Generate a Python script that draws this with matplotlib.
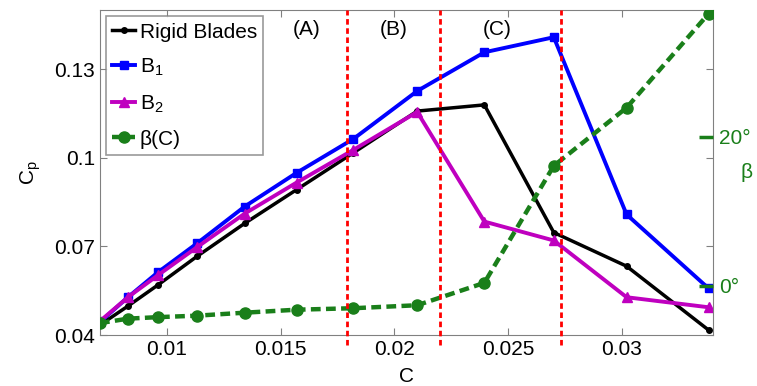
import numpy as np
import matplotlib.pyplot as plt

plt.rcParams['font.family'] = ['Liberation Sans', 'DejaVu Sans']
plt.rcParams['mathtext.fontset'] = 'custom'
plt.rcParams['mathtext.rm'] = 'Liberation Sans'

# tip speed / chord parameter C
c_vals = [0.00706, 0.00829, 0.0096, 0.01132, 0.01342, 0.0157, 0.0182,
          0.0210, 0.02395, 0.0270, 0.0302, 0.0338]
cp_rigid = [0.0434, 0.0498, 0.0569, 0.0666, 0.0778, 0.0892, 0.1017,
            0.1158, 0.1179, 0.0747, 0.0633, 0.0417]
cp_b1 = [0.0444, 0.0528, 0.0612, 0.0710, 0.0835, 0.0949, 0.1064,
         0.1226, 0.1357, 0.1408, 0.0808, 0.0558]
cp_b2 = [0.0447, 0.0528, 0.0602, 0.0697, 0.0811, 0.0916, 0.1027,
         0.1155, 0.0784, 0.0720, 0.0528, 0.0494]
beta = [-5.0, -4.4, -4.2, -4.0, -3.6, -3.2, -3.0, -2.6, 0.4, 16.1, 23.9, 36.5]
region_bounds = [0.0179, 0.0220, 0.0273]
region_labels = ["(A)", "(B)", "(C)"]
region_x = [0.01614, 0.01996, 0.02452]

fig = plt.figure(figsize=(7.57, 3.86), dpi=100)
ax = fig.add_axes([0.132, 0.132, 0.81, 0.842])
ax2 = ax.twinx()

fs = 15
green = '#1a7f1a'
h1, = ax.plot(c_vals, cp_rigid, color='black', lw=2.5, marker='o', ms=4, label='Rigid Blades')
h2, = ax.plot(c_vals, cp_b1, color='#0000ff', lw=2.8, marker='s', ms=6, label=r'B$_1$')
h3, = ax.plot(c_vals, cp_b2, color='#bf00bf', lw=2.8, marker='^', ms=7, label=r'B$_2$')
h4, = ax2.plot(c_vals, beta, color=green, lw=3.2, ls=(0, (2.2, 1.2)), marker='o', ms=8,
               label='β(C)')

for xb in region_bounds:
    ax2.axvline(xb, ymin=-0.03, ymax=1.0, color='red', lw=2, ls=(0, (2, 1.3)),
                clip_on=False, zorder=5)
for lab, xl in zip(region_labels, region_x):
    ax2.text(xl, 0.94, lab, transform=ax.get_xaxis_transform(), ha='center', va='center',
             fontsize=fs)

ax.set_xlim(0.00706, 0.034)
ax.set_ylim(0.04, 0.15)
ax.set_xticks([0.01, 0.015, 0.02, 0.025, 0.03])
ax.set_xticklabels(['0.01', '0.015', '0.02', '0.025', '0.03'])
ax.set_yticks([0.04, 0.07, 0.1, 0.13])
ax.set_yticklabels(['0.04', '0.07', '0.1', '0.13'])
ax.tick_params(direction='in', length=5, color='#808080', labelsize=fs, top=True, right=True)
for s in ax.spines.values():
    s.set_color('#808080')
ax.set_xlabel('C', fontsize=fs)
ax.xaxis.set_label_coords(0.5, -0.098)
ax.set_ylabel(r'C$_\mathrm{p}$', fontsize=fs, labelpad=8)

ax2.set_ylim(-6.6, 37)
ax2.set_yticks([0, 20])
ax2.set_yticklabels(['0°', '20°'])
ax2.tick_params(direction='in', length=10, width=2.5, color=green, labelcolor=green,
                labelsize=fs, pad=4)
for s in ax2.spines.values():
    s.set_visible(False)
ax2.set_ylabel('β', fontsize=fs, color=green, rotation=0, va='center', ha='center')
ax2.yaxis.set_label_coords(1.055, 0.5)

leg = ax2.legend(handles=[h1, h2, h3, h4], loc='upper left', fontsize=fs, frameon=True,
                 fancybox=False, edgecolor='#808080', handlelength=1.1, handletextpad=0.2,
                 borderpad=0.3, labelspacing=0.72, borderaxespad=0.3)
leg.get_frame().set_linewidth(1.2)

fig.savefig('out.png', dpi=100)
